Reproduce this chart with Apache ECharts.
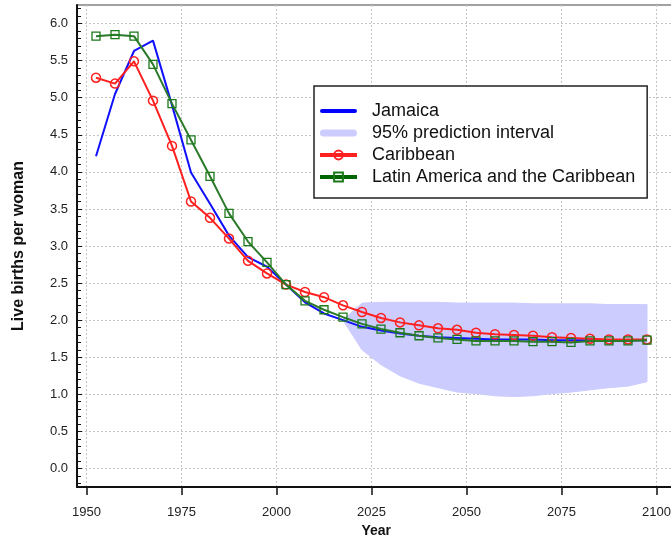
<!DOCTYPE html>
<html><head><meta charset="utf-8">
<script src="https://cdn.jsdelivr.net/npm/echarts@6/dist/echarts.min.js"></script>
<style>html,body{margin:0;padding:0;background:#fff}#c{width:671px;height:539px}</style>
</head><body><div id="c"></div>
<script>
const years = [1952.5,1957.5,1962.5,1967.5,1972.5,1977.5,1982.5,1987.5,1992.5,1997.5,
  2002.5,2007.5,2012.5,2017.5,2022.5,2027.5,2032.5,2037.5,2042.5,2047.5,
  2052.5,2057.5,2062.5,2067.5,2072.5,2077.5,2082.5,2087.5,2092.5,2097.5];
const jamaica = [4.21,5.05,5.63,5.77,4.90,3.99,3.57,3.14,2.85,2.72,
  2.48,2.24,2.09,2.00,1.91,1.86,1.82,1.79,1.77,1.76,
  1.75,1.74,1.74,1.74,1.73,1.73,1.73,1.73,1.73,1.73];
const caribbean = [5.27,5.19,5.49,4.96,4.35,3.60,3.38,3.10,2.80,2.63,
  2.48,2.38,2.31,2.20,2.11,2.03,1.97,1.93,1.89,1.87,
  1.83,1.81,1.80,1.79,1.77,1.76,1.75,1.74,1.74,1.74];
const latinAmerica = [5.83,5.85,5.83,5.45,4.92,4.43,3.94,3.44,3.06,2.78,
  2.48,2.26,2.14,2.04,1.95,1.88,1.83,1.79,1.76,1.74,
  1.72,1.72,1.72,1.71,1.71,1.70,1.72,1.72,1.72,1.73];
const bandYears = [2017.5,2022.5,2027.5,2032.5,2037.5,2042.5,2047.5,2052.5,2057.5,
  2062.5,2067.5,2072.5,2077.5,2082.5,2087.5,2092.5,2097.5];
const bandLower = [2.00,1.60,1.40,1.25,1.15,1.09,1.03,1.01,0.98,0.97,0.98,1.01,1.03,1.06,1.09,1.11,1.17];
const bandUpper = [2.00,2.23,2.24,2.24,2.24,2.24,2.23,2.23,2.23,2.23,2.22,2.22,2.22,2.22,2.21,2.21,2.21];
const yTicks = [0.0,0.5,1.0,1.5,2.0,2.5,3.0,3.5,4.0,4.5,5.0,5.5,6.0];
const yMinorTicks = [-0.2,-0.1,0.1,0.2,0.3,0.4,0.6,0.7,0.8,0.9,1.1,1.2,1.3,1.4,1.6,1.7,1.8,1.9,
  2.1,2.2,2.3,2.4,2.6,2.7,2.8,2.9,3.1,3.2,3.3,3.4,3.6,3.7,3.8,3.9,4.1,4.2,4.3,4.4,
  4.6,4.7,4.8,4.9,5.1,5.2,5.3,5.4,5.6,5.7,5.8,5.9,6.1,6.2];
const xTicks = [1950,1975,2000,2025,2050,2075,2100];

const pairs = (xs, ys) => xs.map((x, i) => [x, ys[i]]);
const FONT = '"Liberation Sans", Arial, sans-serif';
const chart = echarts.init(document.getElementById('c'), null, {renderer: 'canvas'});
const dash = {color: '#c4c4c4', width: 1, type: [2, 2]};
const Y_MIN = -0.25, Y_MAX = 6.25;
chart.setOption({
  animation: false,
  backgroundColor: '#fff',
  textStyle: {fontFamily: FONT},
  grid: {left: 77, top: 5, right: -4.5, bottom: 52, show: true, borderColor: '#444', borderWidth: 1.2,
    containLabel: false, outerBoundsMode: 'none'},
  xAxis: {
    type: 'value', min: 1947.5, max: 2105,
    name: 'Year', nameLocation: 'middle', nameGap: 37,
    nameTextStyle: {fontWeight: 'bold', fontSize: 14, color: '#111', fontFamily: FONT},
    axisLine: {show: true, onZero: false, lineStyle: {color: '#111', width: 2}},
    axisTick: {show: true, inside: false, length: 8, customValues: xTicks, lineStyle: {color: '#111', width: 1.5}},
    axisLabel: {fontSize: 13, color: '#222', margin: 19, fontFamily: FONT, customValues: xTicks,
      formatter: v => String(v)},
    splitLine: {show: true, lineStyle: dash}
  },
  yAxis: [{
    type: 'value', min: Y_MIN, max: Y_MAX,
    name: 'Live births per woman', nameLocation: 'middle', nameGap: 50, nameRotate: 90,
    nameTextStyle: {fontWeight: 'bold', fontSize: 16, color: '#111', fontFamily: FONT},
    axisLine: {show: true, onZero: false, lineStyle: {color: '#111', width: 2}},
    axisTick: {show: true, inside: true, length: 5, customValues: yTicks, lineStyle: {color: '#111', width: 1}},
    axisLabel: {fontSize: 13, color: '#222', margin: 9, fontFamily: FONT, customValues: yTicks,
      formatter: v => v.toFixed(1)},
    splitLine: {show: true, lineStyle: dash}
  }, {
    type: 'value', min: Y_MIN, max: Y_MAX, position: 'left', offset: 0,
    axisLine: {show: false},
    axisTick: {show: true, inside: true, length: 4, customValues: yMinorTicks, lineStyle: {color: '#111', width: 1}},
    axisLabel: {show: false, customValues: yMinorTicks},
    splitLine: {show: false}
  }],
  legend: {
    orient: 'vertical', left: 314, top: 86,
    padding: [16, 12, 12, 4], itemGap: 4, itemWidth: 37, itemHeight: 11,
    backgroundColor: '#fff', borderColor: '#222', borderWidth: 1.5,
    textStyle: {fontSize: 18, color: '#111', fontFamily: FONT, padding: [0, 0, 0, 10]},
    data: [
      {name: 'Jamaica', icon: 'path://M2,0 H35 A2,2 0 0 1 35,4 H2 A2,2 0 0 1 2,0 Z', itemStyle: {color: '#0000ff'}},
      {name: '95% prediction interval', icon: 'path://M4,0 H38 A4,4 0 0 1 38,8 H4 A4,4 0 0 1 4,0 Z', itemStyle: {color: '#ccccff'}},
      {name: 'Caribbean', lineStyle: {width: 4}},
      {name: 'Latin America and the Caribbean', lineStyle: {width: 4, color: '#006400'}}
    ]
  },
  series: [
    {type: 'custom', name: '95% prediction interval', color: '#ccccff', silent: true, z: 1,
      data: pairs(bandYears, bandUpper), encode: {x: 0, y: 1},
      renderItem: (params, api) => {
        if (params.dataIndex !== 0) return null;
        const pts = [];
        bandYears.forEach((yr, i) => pts.push(api.coord([yr, bandUpper[i]])));
        for (let i = bandYears.length - 1; i >= 0; i--) pts.push(api.coord([bandYears[i], bandLower[i]]));
        return {type: 'polygon', shape: {points: pts}, style: {fill: '#ccccff', stroke: '#ccccff', lineWidth: 1}};
      }},
    {type: 'line', name: 'Jamaica', data: pairs(years, jamaica), symbol: 'none', color: '#0000ff',
      lineStyle: {color: '#1010ff', width: 2}, z: 3},
    {type: 'line', name: 'Caribbean', data: pairs(years, caribbean), symbol: 'circle', symbolSize: 9,
      color: '#ff0000', lineStyle: {color: '#ff2020', width: 2},
      itemStyle: {color: 'rgba(255,255,255,0)', borderColor: '#ff2020', borderWidth: 1.5}, z: 4},
    {type: 'line', name: 'Latin America and the Caribbean', data: pairs(years, latinAmerica), symbol: 'rect', symbolSize: 8,
      color: '#1a7a1a', lineStyle: {color: '#2a7a2a', width: 2},
      itemStyle: {color: 'rgba(255,255,255,0)', borderColor: '#1a7a1a', borderWidth: 1.3}, z: 5}
  ]
});
</script></body></html>
